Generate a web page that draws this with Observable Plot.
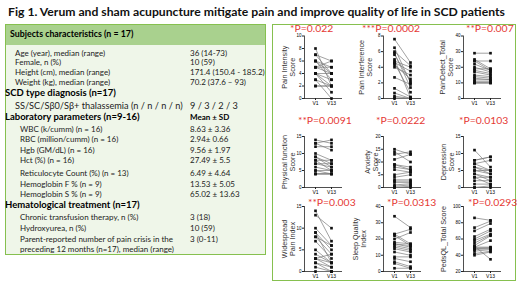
<!DOCTYPE html>
<html>
<head>
<meta charset="utf-8">
<script src="https://cdn.jsdelivr.net/npm/d3@7"></script>
<script src="https://cdn.jsdelivr.net/npm/@observablehq/plot@0.6"></script>
<style>
  html, body { margin: 0; padding: 0; background: #fff; }
  #root { position: relative; width: 520px; height: 286px; overflow: hidden; font-family: Lato, "Open Sans", sans-serif; }
  .abs { position: absolute; white-space: nowrap; line-height: 1; }
  .title { left: 8px; top: 6px; font-weight: 700; font-size: 12.2px; color: #111; }
  .tbox { left: 5px; top: 24px; width: 259px; height: 229px; border: 1.5px solid #86c04f; background: #eff6e9; }
  .thead { left: 6px; top: 25px; width: 259px; height: 20px; background: #a9d18e; }
  .pbox { left: 272px; top: 24px; width: 242px; height: 255px; border: 1.5px solid #86c04f; background: #fff; }
  .row { color: #222; font-size: 8px; transform: translateY(-50%); }
  .sec { font-weight: 700; font-size: 9.5px; color: #000; }
  .big { font-size: 9.2px; }
  .pval { color: #e53935; font-size: 10.4px; transform: translateY(-50%); }
  .panel { position: absolute; }
</style>
</head>
<body>
<div id="root"></div>
<script>
// ---------- Table text ----------
const tableLabels = [
  "Subjects characteristics (n = 17)",
  "Age (year), median (range)",
  "Female, n (%)",
  "Height (cm), median (range)",
  "Weight (kg), median (range)",
  "SCD type diagnosis (n=17)",
  "SS/SC/Sβ0/Sβ+ thalassemia (n / n / n / n)",
  "Laboratory parameters (n=9-16)",
  "WBC (k/cumm) (n = 16)",
  "RBC (million/cumm) (n = 16)",
  "Hgb (GM/dL) (n = 16)",
  "Hct (%) (n = 16)",
  "Reticulocyte Count (%) (n = 13)",
  "Hemoglobin F % (n = 9)",
  "Hemoglobin S % (n = 9)",
  "Hematological treatment (n=17)",
  "Chronic transfusion therapy, n (%)",
  "Hydroxyurea, n (%)",
  "Parent-reported number of pain crisis in the",
  "preceding 12 months (n=17), median (range)"
];
const tableValues = [
  "", "36 (14-73)", "10 (59)", "171.4 (150.4 - 185.2)", "70.2 (37.6 – 93)",
  "", "9 / 3 / 2 / 3", "Mean ± SD",
  "8.63 ± 3.36", "2.94± 0.66", "9.56 ± 1.97", "27.49 ± 5.5", "6.49 ± 4.64",
  "13.53 ± 5.05", "65.02 ± 13.63",
  "", "3 (18)", "10 (59)", "3 (0-11)", ""
];
const tableKinds = ["head","n","n","n","n","sec","big","sec","n","n","n","n","n","n","n","sec","n","n","n","n"];

// ---------- Panel data ----------
const visits = ["V1", "V13"];
const panelTitles = ["Pain Intensity\nScore", "Pain Interference\nScore", "PainDetect_Total\nScore",
  "Physical function\nScore", "Anxiety\nScore", "Depression\nScore",
  "Widespread\nPain Index", "Sleep Quality\nIndex", "PedsQL_Total Score"];
const pValues = ["*P=0.022", "***P=0.0002", "**P=0.007", "**P=0.0091", "*P=0.0222", "*P=0.0103",
  "**P=0.003", "*P=0.0313", "*P=0.0293"];
const yDomains = [[0,10],[0,8],[0,40],[0,15],[0,20],[0,15],[0,15],[0,40],[20,100]];
const yTicks = [[0,2,4,6,8,10],[0,2,4,6,8],[0,10,20,30,40],[0,5,10,15],[0,5,10,15,20],[0,5,10,15],[0,5,10,15],[0,10,20,30,40],[20,40,60,80,100]];

const painIntensityV1  = [8,7,7,6,6,5,5,4,4,4,4,3,3,2,2,6,5];
const painIntensityV13 = [2,6,4,5,3,6,4,4,2,1,3,2,0,2,2,4,5];
const painInterferenceV1  = [7.6,6.5,6.0,5.8,5.6,4.8,4.6,4.5,4.3,4.0,2.7,1.3,0.7,0.3,0.0,0.1,5.0];
const painInterferenceV13 = [4.6,2.0,4.2,1.4,2.2,4.0,3.5,0.8,2.5,3.0,1.8,0.2,0.0,0.0,0.0,0.0,0.1];
const painDetectV1  = [29,25,24,24,22,20,18,17,15,14,13,12,11,10,10,10,19];
const painDetectV13 = [29,19,24,18,18,17,16,15,14,13,12,12,11,10,10,10,19];
const physicalV1  = [14,13,13,12,10,9,8,8,7,7,6,5,5,4,4,4,9];
const physicalV13 = [13,11,14,12,8,7,8,5,7,6,5,4,5,4,4,4,6];
const anxietyV1  = [15,14,13,11,9,8,7,5,4,3,2.5,2,1,0.5,0,0,9];
const anxietyV13 = [13,10,14,13,8,7,6,6,5,3,2.5,2,1.5,1,0.5,0,7];
const depressionV1  = [11,8,8,7,6,5,5,4,4,3,3,2,1,0,0,6,7];
const depressionV13 = [6,9,9,5,5,4,5,3,2,3,1,2,1,0.5,0,4,8];
const widespreadV1  = [14,13,10,9,8,7,5,4,3,3,3,2,2,1,0,8,9];
const widespreadV13 = [7,10,6,5,4,3,2,2,4,1,2,1,0,0,0,6,2];
const sleepV1  = [34,23,22,20,18,17,16,15,14,12,9,8,6,5,2,23,17];
const sleepV13 = [27,26,16,24,17,15,14,13,12,10,9,6,3,2,2,17,16];
const pedsV1  = [86,74,70,63,60,58,55,52,50,50,48,47,45,42,40,51,49];
const pedsV13 = [83,82,79,72,70,66,65,64,58,50,49,48,47,45,44,35,49];

const seriesV1 = [painIntensityV1, painInterferenceV1, painDetectV1, physicalV1, anxietyV1, depressionV1, widespreadV1, sleepV1, pedsV1];
const seriesV13 = [painIntensityV13, painInterferenceV13, painDetectV13, physicalV13, anxietyV13, depressionV13, widespreadV13, sleepV13, pedsV13];

// ---------- Layout (positions only) ----------
const rowY = [34, 52.7, 62.3, 72, 82, 93, 105.5, 117, 128.5, 139, 149.5, 160, 172.5, 183.5, 194, 205, 217, 228, 238.5, 249];
const rowX = [10, 15, 15, 15, 15, 5, 15, 5, 20, 20, 20, 20, 20, 20, 20, 5, 20, 20, 20, 20];
const valueX = 190;
const colLeft = [274, 356, 438];
const colAxis = [304, 383, 463];
const rowTop = [25, 126, 196];
const rowFrame = [[35.5, 98], [136, 187], [206, 271]];
const labelDx = [-16, -18, -17, -16, -12, -16, -16, -24, -20];
const pX = [290, 362, 466, 298, 376, 459, 308, 387, 468];
const pY = [27.5, 27.5, 27.5, 120, 120, 120, 202, 202, 202];

const root = document.getElementById("root");
function add(cls, text, style) {
  const d = document.createElement("div");
  d.className = "abs " + cls;
  d.textContent = text;
  Object.assign(d.style, style || {});
  root.appendChild(d);
  return d;
}
add("title", "Fig 1. Verum and sham acupuncture mitigate pain and improve quality of life in SCD patients");
add("tbox", "");
add("thead", "");
add("pbox", "");

tableLabels.forEach((lab, i) => {
  const k = tableKinds[i];
  const cls = "row" + (k === "sec" || k === "head" ? " sec" : k === "big" ? " big" : "");
  add(cls, lab, {left: rowX[i] + "px", top: rowY[i] + "px", fontSize: k === "head" ? "8.8px" : null});
  if (tableValues[i]) {
    add(cls, tableValues[i], {left: valueX + "px", top: rowY[i] + "px", fontSize: k === "sec" ? "8px" : null});
  }
});

// ---------- Panels ----------
const W = 80, FW = 37;
for (let i = 0; i < 9; i++) {
  const r = Math.floor(i / 3), c = i % 3;
  const ml = colAxis[c] - colLeft[c];
  const top = rowTop[r];
  const [ft, fb] = rowFrame[r];
  const mb = 12;
  const H = fb - top + mb;
  const long = [];
  seriesV1[i].forEach((v, j) => {
    long.push({id: j, visit: visits[0], value: v});
    long.push({id: j, visit: visits[1], value: seriesV13[i][j]});
  });
  const chart = Plot.plot({
    width: W, height: H,
    marginLeft: ml, marginRight: W - ml - FW, marginTop: ft - top, marginBottom: mb,
    x: {type: "point", domain: visits, padding: 0.6, label: null},
    y: {domain: yDomains[i], label: null},
    style: {background: "transparent", overflow: "visible", fontFamily: "Liberation Sans, Arial, sans-serif"},
    marks: [
      Plot.frame({anchor: "left", stroke: "#222", strokeWidth: 0.8}),
      Plot.frame({anchor: "bottom", stroke: "#222", strokeWidth: 0.8}),
      Plot.axisY({ticks: yTicks[i], tickSize: 2, tickPadding: 1, fontSize: 4.5, label: null, stroke: "#222"}),
      Plot.axisX({tickSize: 2, tickPadding: 1, fontSize: 5, label: null, stroke: "#222"}),
      Plot.line(long, {x: "visit", y: "value", z: "id", stroke: "#7a7a7a", strokeWidth: 0.7}),
      Plot.dot(long, {x: "visit", y: "value", symbol: "square", r: 1.5, fill: "#111", stroke: null}),
      Plot.text([panelTitles[i]], {text: d => d, frameAnchor: "left", rotate: -90, dx: labelDx[i],
        textAnchor: "middle", lineAnchor: "middle", fontSize: 7.2, fill: "#333", lineHeight: 1.1})
    ]
  });
  const wrap = document.createElement("div");
  wrap.className = "panel";
  wrap.style.left = colLeft[c] + "px";
  wrap.style.top = top + "px";
  wrap.appendChild(chart);
  root.appendChild(wrap);
  add("pval", pValues[i], {left: pX[i] + "px", top: pY[i] + "px"});
}
</script>
</body>
</html>
